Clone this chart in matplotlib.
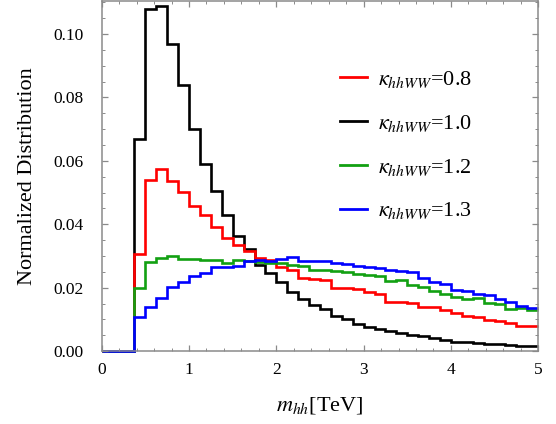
import numpy as np
import matplotlib
matplotlib.use("Agg")
import matplotlib.pyplot as plt
from matplotlib.ticker import MultipleLocator, FormatStrFormatter

plt.rcParams['font.family'] = ['Liberation Serif', 'DejaVu Serif']
plt.rcParams['mathtext.fontset'] = 'stix'

# m_hh bins: 40 bins of 0.125 TeV from 0 to 5
edges = np.linspace(0, 5, 41)

k08 = [0, 0, 0, 0.0307, 0.0539, 0.0575, 0.0536, 0.0502, 0.0459, 0.0428,
       0.0390, 0.0357, 0.0335, 0.0314, 0.0293, 0.0286, 0.0265, 0.0256, 0.0230, 0.0226,
       0.0224, 0.0200, 0.0198, 0.0196, 0.0187, 0.0181, 0.0156, 0.0154, 0.0152, 0.0139,
       0.0140, 0.0128, 0.0121, 0.0112, 0.0109, 0.0099, 0.0094, 0.0087, 0.0080, 0.0079]

k10 = [0, 0, 0, 0.0668, 0.1079, 0.1087, 0.0968, 0.0839, 0.0699, 0.0589,
       0.0504, 0.0430, 0.0362, 0.0323, 0.0272, 0.0247, 0.0218, 0.0186, 0.0164, 0.0144,
       0.0132, 0.0112, 0.0101, 0.0086, 0.0075, 0.0070, 0.0064, 0.0056, 0.0051, 0.0046,
       0.0040, 0.0034, 0.0030, 0.0028, 0.0025, 0.0023, 0.0021, 0.0019, 0.0017, 0.0016]

k12 = [0, 0, 0, 0.0198, 0.0282, 0.0294, 0.0301, 0.0291, 0.0290, 0.0287,
       0.0287, 0.0279, 0.0288, 0.0283, 0.0281, 0.0279, 0.0278, 0.0271, 0.0268, 0.0257,
       0.0255, 0.0251, 0.0248, 0.0243, 0.0241, 0.0237, 0.0220, 0.0224, 0.0207, 0.0203,
       0.0188, 0.0180, 0.0169, 0.0164, 0.0167, 0.0151, 0.0149, 0.0132, 0.0135, 0.0128]

k13 = [0, 0, 0, 0.0108, 0.0138, 0.0167, 0.0202, 0.0217, 0.0237, 0.0247,
       0.0266, 0.0265, 0.0269, 0.0283, 0.0288, 0.0284, 0.0289, 0.0296, 0.0285, 0.0285,
       0.0284, 0.0279, 0.0274, 0.0267, 0.0265, 0.0262, 0.0256, 0.0254, 0.0248, 0.0230,
       0.0218, 0.0213, 0.0193, 0.0188, 0.0181, 0.0177, 0.0163, 0.0156, 0.0142, 0.0136]

labels = [r'$\kappa_{hhWW}$=0.8', r'$\kappa_{hhWW}$=1.0',
          r'$\kappa_{hhWW}$=1.2', r'$\kappa_{hhWW}$=1.3']
colors = ['#ff0000', '#000000', '#12a012', '#0000ff']

fig = plt.figure(figsize=(5.56, 4.24), dpi=100)
ax = fig.add_axes([0.183, 0.172, 0.785, 0.825])

# black drawn first so the others sit on top of it
series = [k08, k10, k12, k13]
handles = {}
for i in [1, 0, 2, 3]:
    handles[i] = ax.stairs(series[i], edges, baseline=None, color=colors[i],
                           linewidth=1.9, label=labels[i], clip_on=False)

ax.set_xlim(0, 5)
ax.set_ylim(0, 0.1103)
ax.xaxis.set_major_locator(MultipleLocator(1))
ax.xaxis.set_minor_locator(MultipleLocator(0.2))
ax.yaxis.set_major_locator(MultipleLocator(0.02))
ax.yaxis.set_minor_locator(MultipleLocator(0.005))
ax.yaxis.set_major_formatter(FormatStrFormatter('%.2f'))

for s in ax.spines.values():
    s.set_color('#8a8a8a')
    s.set_linewidth(1.1)
ax.tick_params(which='both', direction='in', top=True, right=True,
               color='#8a8a8a', labelsize=12.5)
ax.tick_params(axis='x', pad=8)
ax.tick_params(axis='y', pad=13)
ax.tick_params(which='major', length=4.5, width=0.9)
ax.tick_params(which='minor', length=2.5, width=0.7)

ax.set_xlabel(r'$m_{hh}$[TeV]', fontsize=16, labelpad=12)
ax.set_ylabel('Normalized Distribution', fontsize=16, labelpad=12)

leg = ax.legend([handles[i] for i in range(4)], labels, loc='upper left',
                bbox_to_anchor=(0.546, 0.807), frameon=False, fontsize=16,
                borderpad=0, borderaxespad=0,
                handlelength=1.2, handletextpad=0.5, labelspacing=1.03)
for line in leg.get_lines():
    line.set_linewidth(2)

fig.savefig('out.png', dpi=100)
